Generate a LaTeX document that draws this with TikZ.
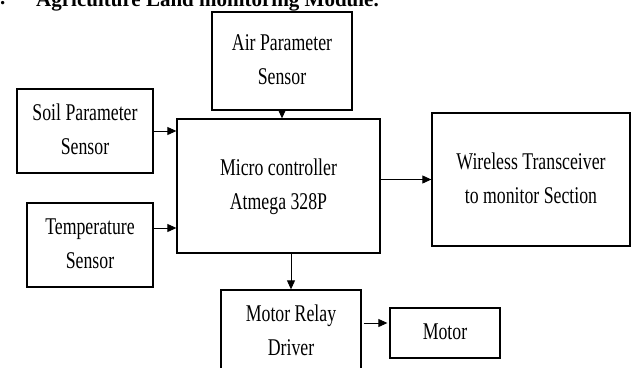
\documentclass[tikz,border=0pt]{standalone}
\usepackage{graphicx}
\usepackage{fontspec}
\setmainfont{Liberation Serif}
\usetikzlibrary{arrows.meta}
\newcommand{\bx}[1]{\scalebox{0.74}[1]{\begin{tabular}{@{}c@{}}#1\end{tabular}}}
\begin{document}
\begin{tikzpicture}[x=1pt,y=-1pt,
  box/.style={draw, line width=1.3pt, inner sep=0pt, font=\fontsize{24}{34}\selectfont},
  arr/.style={-{Triangle[length=9pt,width=8pt]}, line width=0.9pt},
  head/.style={anchor=base west, inner sep=0pt, font=\bfseries\fontsize{21}{24}\selectfont}]
\useasboundingbox (0,0) rectangle (637,367);
\node[head] (num) at (0,4) {.};
\node[head] (title) at (36,6) {Agriculture Land monitoring Module.};
\node[box, minimum width=140pt, minimum height=98pt] (air) at (282,61) {\bx{Air Parameter\\Sensor}};
\node[box, minimum width=136pt, minimum height=84pt] (soil) at (85,131) {\bx{Soil Parameter\\Sensor}};
\node[box, minimum width=126pt, minimum height=84pt] (temp) at (90,245) {\bx{Temperature\\Sensor}};
\node[box, minimum width=203pt, minimum height=134pt] (micro) at (278.5,186) {\bx{Micro controller\\Atmega 328P}};
\node[box, minimum width=198pt, minimum height=133pt] (wire) at (531,179.5) {\bx{Wireless Transceiver\\to monitor Section}};
\node[box, minimum width=140pt, minimum height=83pt] (relay) at (291,331.5) {\bx{Motor Relay\\Driver}};
\node[box, minimum width=110pt, minimum height=50pt] (motor) at (445,333) {\bx{Motor}};
\draw[arr] (air.south) -- (air.south |- micro.north);
\draw[arr] (soil.east) -- (soil.east -| micro.west);
\coordinate (t) at ([yshift=17pt]temp.east);
\draw[arr] (t) -- (t -| micro.west);
\draw[arr] (micro.east |- wire.west) -- (wire.west);
\draw[arr] (relay.north |- micro.south) -- (relay.north);
\coordinate (m) at ([yshift=10pt]motor.west);
\draw[arr, shorten <=2pt, shorten >=2pt] (relay.east |- m) -- (m);
\end{tikzpicture}
\end{document}
